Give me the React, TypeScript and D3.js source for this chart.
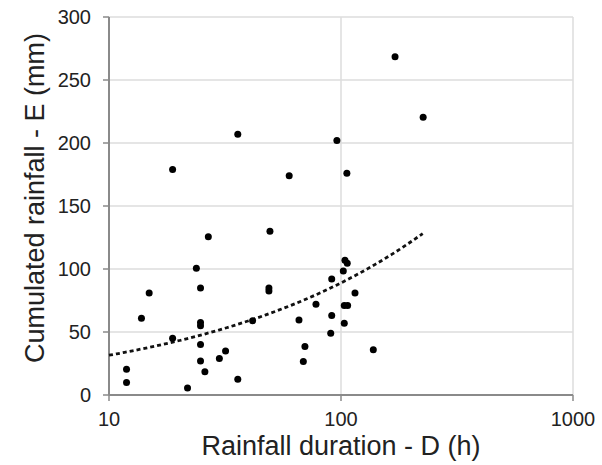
import React from "react";
import * as d3 from "d3";

// rainfall duration D (h) and cumulated rainfall E (mm)
const durations = [
    18.8, 35.9, 59.8, 96, 106, 171, 226, 11.9, 11.9, 13.8, 14.9, 18.8, 21.8, 23.8,
    24.8, 24.8, 24.8, 24.8, 24.8, 25.9, 26.8, 29.9, 31.8, 35.9, 41.6, 48.9, 48.9,
    49.4, 65.9, 69.9, 68.8, 78, 91.2, 91.2, 90.3, 102.3, 104, 106.4, 103.3, 106.8,
    103.3, 114.9, 137.8
];
const rainfall = [
    179, 207, 174, 202, 176, 268.5, 220.5, 20.5, 10, 61, 81, 45, 5.5, 100.5,
    85, 57.5, 55, 40, 27, 18.5, 125.5, 29, 35, 12.5, 59, 85, 82.5,
    130, 59.5, 38.5, 26.5, 72, 92, 63, 49, 98.5, 107, 104.5, 71, 71,
    57, 81, 36
];

const yTicks = [0, 50, 100, 150, 200, 250, 300];
const xTicks = [10, 100, 1000];

// power trend line E = a * D^b, drawn from D = 10 to 225
const trendA = 11.2;
const trendB = 0.45;
const trendRange = [10, 225];

const W = 602, H = 465;
const margin = { left: 109, right: 29, top: 17, bottom: 70 };

const App = () => {
    const svgRef = React.useRef(null);

    React.useEffect(() => {
        drawChart()
    }, []);

    const drawChart = () => {
        const svg = d3.select(svgRef.current);
        svg.selectAll("*").remove();

        const x = d3.scaleLog().domain([10, 1000]).range([margin.left, W - margin.right]);
        const y = d3.scaleLinear().domain([0, 300]).range([H - margin.bottom, margin.top]);

        // grid
        svg.append("g")
            .selectAll("line")
            .data(yTicks.slice(1))
            .join("line")
            .attr("x1", x(10)).attr("x2", x(1000))
            .attr("y1", d => y(d)).attr("y2", d => y(d))
            .attr("stroke", "#dcdcdc").attr("stroke-width", 1.5);
        svg.append("g")
            .selectAll("line")
            .data(xTicks.slice(1))
            .join("line")
            .attr("x1", d => x(d)).attr("x2", d => x(d))
            .attr("y1", y(0)).attr("y2", y(300))
            .attr("stroke", "#dcdcdc").attr("stroke-width", 1.5);

        // axes
        const axisColor = "#8a8a8a";
        svg.append("line")
            .attr("x1", x(10)).attr("x2", x(10))
            .attr("y1", y(0)).attr("y2", y(300))
            .attr("stroke", axisColor).attr("stroke-width", 2);
        svg.append("line")
            .attr("x1", x(10)).attr("x2", x(1000))
            .attr("y1", y(0)).attr("y2", y(0))
            .attr("stroke", axisColor).attr("stroke-width", 2);
        svg.append("g")
            .selectAll("line")
            .data(yTicks)
            .join("line")
            .attr("x1", x(10) - 6).attr("x2", x(10))
            .attr("y1", d => y(d)).attr("y2", d => y(d))
            .attr("stroke", axisColor).attr("stroke-width", 1.5);
        svg.append("g")
            .selectAll("line")
            .data(xTicks)
            .join("line")
            .attr("x1", d => x(d)).attr("x2", d => x(d))
            .attr("y1", y(0)).attr("y2", y(0) + 6)
            .attr("stroke", axisColor).attr("stroke-width", 1.5);

        const font = "Liberation Sans, Arial, sans-serif";
        svg.append("g")
            .selectAll("text")
            .data(yTicks)
            .join("text")
            .attr("x", x(10) - 18)
            .attr("y", d => y(d))
            .attr("dy", "0.36em")
            .attr("text-anchor", "end")
            .style("font", `20px ${font}`)
            .attr("fill", "#222")
            .text(d => d);
        svg.append("g")
            .selectAll("text")
            .data(xTicks)
            .join("text")
            .attr("x", d => x(d))
            .attr("y", 426)
            .attr("text-anchor", "middle")
            .style("font", `20px ${font}`)
            .attr("fill", "#222")
            .text(d => d);

        // titles
        svg.append("text")
            .attr("x", (x(10) + x(1000)) / 2)
            .attr("y", 455)
            .attr("text-anchor", "middle")
            .style("font", `27px ${font}`)
            .attr("fill", "#222")
            .text("Rainfall duration - D (h)");
        svg.append("text")
            .attr("transform", `translate(44, 198) rotate(-90)`)
            .attr("text-anchor", "middle")
            .style("font", `27px ${font}`)
            .attr("fill", "#222")
            .text("Cumulated rainfall - E (mm)");

        // trend line
        const trendX = d3.range(0, 41).map(i => trendRange[0] * Math.pow(trendRange[1] / trendRange[0], i / 40));
        const line = d3.line()
            .x(d => x(d))
            .y(d => y(trendA * Math.pow(d, trendB)));
        svg.append("path")
            .attr("d", line(trendX))
            .attr("fill", "none")
            .attr("stroke", "#111")
            .attr("stroke-width", 2.8)
            .attr("stroke-dasharray", "4,3");

        // points
        svg.append("g")
            .selectAll("circle")
            .data(durations.map((d, i) => [d, rainfall[i]]))
            .join("circle")
            .attr("cx", d => x(d[0]))
            .attr("cy", d => y(d[1]))
            .attr("r", 3.5)
            .attr("fill", "#000");
    }

    return <svg ref={svgRef} width={W} height={H}
        style={{ position: "absolute", left: 0, top: 0, background: "#fff" }}></svg>
}

export default App
